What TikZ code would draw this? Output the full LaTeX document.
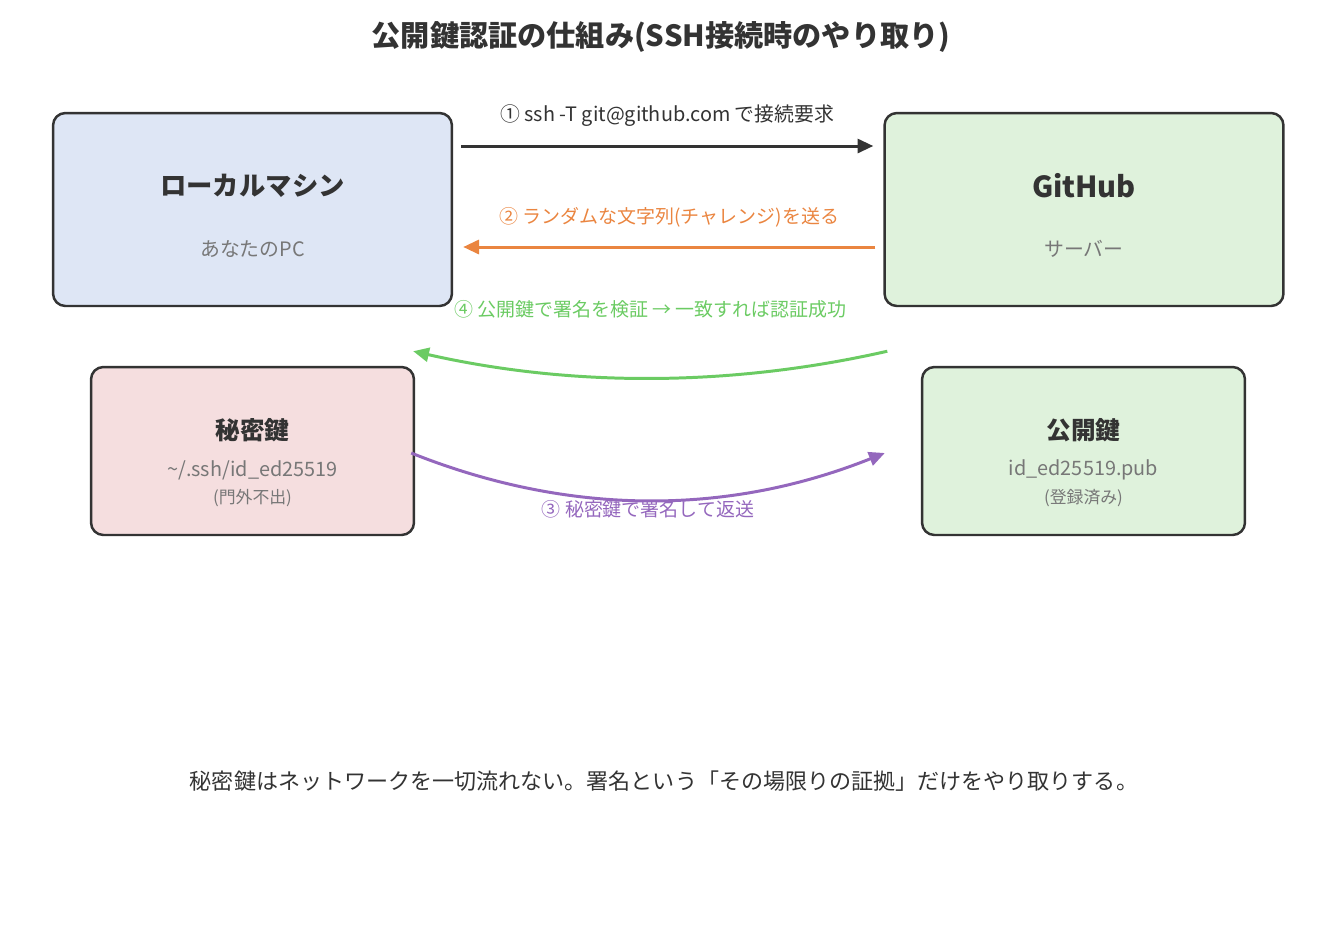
\documentclass[tikz,border=0pt]{standalone}
\usepackage{fontspec}
\setmainfont{Noto Sans CJK JP}
\usetikzlibrary{arrows.meta, calc, positioning}

\definecolor{ink}{HTML}{333333}
\definecolor{subgray}{HTML}{777777}
\definecolor{localfill}{HTML}{DEE6F5}
\definecolor{srvfill}{HTML}{DFF2DC}
\definecolor{secfill}{HTML}{F5DEDF}
\definecolor{orangeline}{HTML}{EA8540}
\definecolor{greenline}{HTML}{6BCB63}
\definecolor{purpleline}{HTML}{9467BD}

\tikzset{
  box/.style={draw=ink, line width=1.4pt, rounded corners=7pt, inner sep=0pt},
  bigbox/.style={box, minimum width=7.98cm, minimum height=3.86cm},
  keybox/.style={box, minimum width=6.46cm, minimum height=3.36cm},
  head/.style={font=\bfseries\fontsize{15}{18}\selectfont, text=ink},
  keyhead/.style={font=\bfseries\fontsize{14}{17}\selectfont, text=ink},
  sub/.style={font=\fontsize{11.3}{13}\selectfont, text=subgray},
  note/.style={font=\fontsize{9.6}{12}\selectfont, text=subgray},
  msg/.style={font=\fontsize{10.8}{13}\selectfont},
  flow/.style={line width=1.7pt, -{Triangle[length=9pt,width=8pt]}},
}

\begin{document}
\begin{tikzpicture}[x=0.02cm, y=-0.02cm]
\useasboundingbox (0,0) rectangle (1323,931);

% title
\node[font=\bfseries\fontsize{16.6}{20}\selectfont, text=ink] (title) at (661,37) {公開鍵認証の仕組み(SSH接続時のやり取り)};

% the two machines
\node[bigbox, fill=localfill] (local) at (252.5,209.5) {};
\node[head] (localname) at ($(local)+(0,-24)$) {ローカルマシン};
\node[sub] (localsub) at ($(local)+(0,39.5)$) {あなたのPC};

\node[bigbox, fill=srvfill] (github) at (1084,209.5) {};
\node[head, font=\bfseries\fontsize{16.5}{19}\selectfont] (githubname) at ($(github)+(0,-24)$) {GitHub};
\node[sub] (githubsub) at ($(github)+(0,39.5)$) {サーバー};

% the key pair
\node[keybox, fill=secfill] (seckey) at (252.5,451) {};
\node[keyhead] (seckeyname) at ($(seckey)+(0,-21)$) {秘密鍵};
\node[sub] (seckeypath) at ($(seckey)+(0,19)$) {\textasciitilde/.ssh/id\_ed25519};
\node[note] (seckeynote) at ($(seckey)+(0,47)$) {(門外不出)};

\node[keybox, fill=srvfill] (pubkey) at (1083.5,451) {};
\node[keyhead] (pubkeyname) at ($(pubkey)+(0,-21)$) {公開鍵};
\node[sub] (pubkeypath) at ($(pubkey)+(0,19)$) {id\_ed25519.pub};
\node[note] (pubkeynote) at ($(pubkey)+(0,47)$) {(登録済み)};

% the exchange
\draw[flow, ink] ($(local.east)+(8,-63.5)$) -- node[msg, font=\fontsize{11.3}{13}\selectfont, text=ink, yshift=17.6pt] (step1) {① ssh -T git@github.com で接続要求} ($(github.west)+(-10,-63.5)$);
\draw[flow, orangeline] ($(github.west)+(-8,37.5)$) -- node[msg, text=orangeline, yshift=17pt] (step2) {② ランダムな文字列(チャレンジ)を送る} ($(local.east)+(10,37.5)$);
\draw[flow, purpleline] ($(seckey.east)+(-4,2)$) .. controls (569,516) and (727,516) .. node[msg, text=purpleline, yshift=-5pt] (step3) {③ 秘密鍵で署名して返送} ($(pubkey.west)+(-36,2)$);
\draw[flow, greenline] ($(github.south west)+(4,44)$) .. controls (730,387) and (571,387) .. node[msg, text=greenline, yshift=39pt] (step4) {④ 公開鍵で署名を検証 → 一致すれば認証成功} ($(local.south east)+(-40,44)$);

% footer
\node[font=\fontsize{12.55}{15}\selectfont, text=ink] (footer) at (664,781) {秘密鍵はネットワークを一切流れない。署名という「その場限りの証拠」だけをやり取りする。};
\end{tikzpicture}
\end{document}
